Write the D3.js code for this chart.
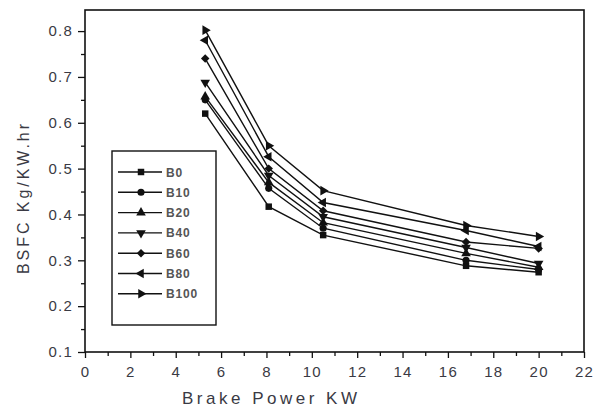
<!DOCTYPE html>
<html>
<head>
<meta charset="utf-8">
<script src="https://cdn.jsdelivr.net/npm/d3@7"></script>
<style>
  body { margin: 0; background: #fff; }
  svg text { font-family: "Liberation Sans", Arial, sans-serif; }
</style>
</head>
<body>
<div id="chart"></div>
<script>
// brake power (kW)
var power = [5.3, 8.1, 10.5, 16.8, 20];

var seriesNames = ["B0", "B10", "B20", "B40", "B60", "B80", "B100"];

// BSFC values
var b0   = [0.62, 0.417, 0.355, 0.288, 0.274];
var b10  = [0.65, 0.457, 0.37, 0.30, 0.28];
var b20  = [0.657, 0.47, 0.382, 0.315, 0.285];
var b40  = [0.688, 0.485, 0.395, 0.328, 0.293];
var b60  = [0.74, 0.50, 0.408, 0.34, 0.326];
var b80  = [0.78, 0.526, 0.426, 0.365, 0.33];
var b100 = [0.802, 0.55, 0.452, 0.376, 0.352];

var xTicks = [0, 2, 4, 6, 8, 10, 12, 14, 16, 18, 20, 22];
var yTicks = [0.1, 0.2, 0.3, 0.4, 0.5, 0.6, 0.7, 0.8];

var allSeries = [b0, b10, b20, b40, b60, b80, b100];

var width = 604, height = 410;
var plotLeft = 85, plotRight = 584, plotTop = 10, plotBottom = 352;

var svg = d3.select("#chart").append("svg")
    .attr("width", width).attr("height", height);

var xScale = d3.scaleLinear().domain([0, 22]).range([plotLeft, plotRight]);
var yScale = d3.scaleLinear().domain([0.1, 0.846]).range([plotBottom, plotTop]);

var labelColor = "#3a3a44";

// minor ticks first
svg.append("g")
    .attr("transform", "translate(0," + plotBottom + ")")
    .call(d3.axisBottom(xScale).tickValues(d3.range(1, 22, 2)).tickSize(4).tickFormat(""))
    .call(function(g){ g.select(".domain").remove(); });
svg.append("g")
    .attr("transform", "translate(" + plotLeft + ",0)")
    .call(d3.axisLeft(yScale).tickValues(d3.range(0.15, 0.84, 0.1)).tickSize(4).tickFormat(""))
    .call(function(g){ g.select(".domain").remove(); });

var xAxis = svg.append("g")
    .attr("transform", "translate(0," + plotBottom + ")")
    .call(d3.axisBottom(xScale).tickValues(xTicks).tickSize(6).tickPadding(8).tickFormat(d3.format("d")));
var yAxis = svg.append("g")
    .attr("transform", "translate(" + plotLeft + ",0)")
    .call(d3.axisLeft(yScale).tickValues(yTicks).tickSize(7).tickPadding(5).tickFormat(d3.format(".1f")));

[xAxis, yAxis].forEach(function(g){
    g.selectAll("text").attr("font-size", 15).attr("fill", labelColor)
        .attr("letter-spacing", 1.2)
        .style("font-family", "'Liberation Sans', Arial, sans-serif");
    g.select(".domain").remove();
});
svg.selectAll(".tick line").attr("stroke", "#111").attr("stroke-width", 1.3);

// frame
svg.append("rect")
    .attr("x", plotLeft).attr("y", plotTop)
    .attr("width", plotRight - plotLeft).attr("height", plotBottom - plotTop)
    .attr("fill", "none").attr("stroke", "#111").attr("stroke-width", 1.6);

// axis titles
svg.append("text")
    .attr("x", 182).attr("y", 404)
    .attr("font-size", 17).attr("fill", labelColor)
    .attr("textLength", 175).attr("lengthAdjust", "spacing")
    .text("Brake Power KW");

svg.append("text")
    .attr("transform", "translate(29,274) rotate(-90)")
    .attr("font-size", 16).attr("fill", labelColor)
    .attr("textLength", 150).attr("lengthAdjust", "spacing")
    .text("BSFC Kg/KW.hr");

// marker shapes
var markers = [
    {type: d3.symbolSquare, size: 42, rot: 0},
    {type: d3.symbolCircle, size: 40, rot: 0},
    {type: d3.symbolTriangle, size: 40, rot: 0},
    {type: d3.symbolTriangle, size: 40, rot: 180},
    {type: d3.symbolSquare, size: 36, rot: 45},
    {type: d3.symbolTriangle, size: 40, rot: -90},
    {type: d3.symbolTriangle, size: 40, rot: 90}
];

var line = d3.line()
    .x(function(d){ return xScale(d.x); })
    .y(function(d){ return yScale(d.y); });

allSeries.forEach(function(vals, i){
    var pts = vals.map(function(v, j){ return {x: power[j], y: v}; });
    svg.append("path")
        .datum(pts)
        .attr("d", line)
        .attr("fill", "none")
        .attr("stroke", "#111")
        .attr("stroke-width", 1.4);

    svg.selectAll(".m" + i)
        .data(pts)
        .enter().append("path")
        .attr("class", "m" + i)
        .attr("d", d3.symbol().type(markers[i].type).size(markers[i].size))
        .attr("transform", function(d){
            return "translate(" + xScale(d.x) + "," + yScale(d.y) + ") rotate(" + markers[i].rot + ")";
        })
        .attr("fill", "#111");
});

// legend
var legend = svg.append("g");
legend.append("rect")
    .attr("x", 112).attr("y", 151)
    .attr("width", 104).attr("height", 174)
    .attr("fill", "#fff").attr("stroke", "#111").attr("stroke-width", 1.4);

seriesNames.forEach(function(name, i){
    var y = 172 + i * 20.3;
    legend.append("line")
        .attr("x1", 118).attr("x2", 162)
        .attr("y1", y).attr("y2", y)
        .attr("stroke", "#111").attr("stroke-width", 1.4);
    legend.append("path")
        .attr("d", d3.symbol().type(markers[i].type).size(markers[i].size))
        .attr("transform", "translate(141," + y + ") rotate(" + markers[i].rot + ")")
        .attr("fill", "#111");
    legend.append("text")
        .attr("x", 166).attr("y", y + 4.5)
        .attr("font-size", 12).attr("font-weight", "bold")
        .attr("letter-spacing", 0.8)
        .attr("fill", "#555")
        .text(name);
});
</script>
</body>
</html>
